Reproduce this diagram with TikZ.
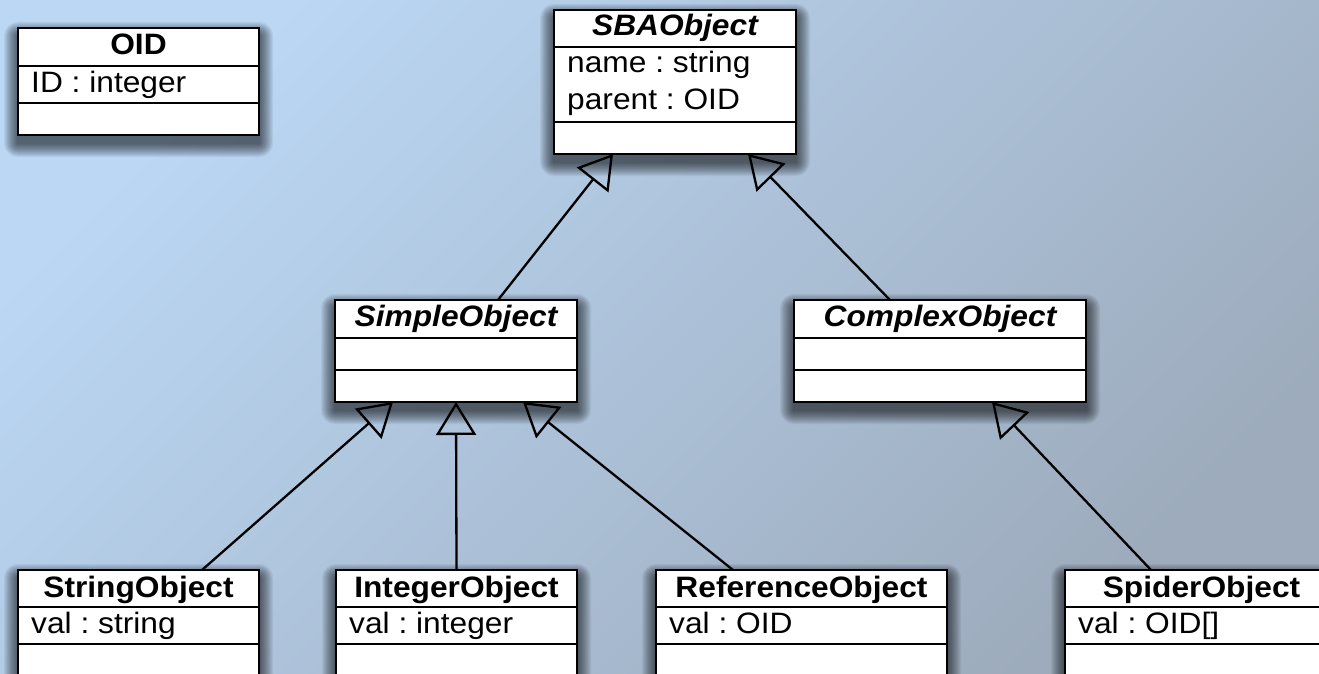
\documentclass[tikz,border=0pt]{standalone}
\usepackage{fontspec}
\setmainfont{Liberation Sans}[FakeStretch=1.075]
\usetikzlibrary{arrows.meta,calc}
\frenchspacing

\definecolor{bgLight}{HTML}{BBD7F4}
\definecolor{bgDark}{HTML}{9DABBC}

\tikzset{
  classbox/.style={rectangle, draw=black, fill=white, line width=2.8pt, inner sep=0pt, outer sep=0pt},
  divider/.style={draw=black, line width=2.3pt},
  classname/.style={anchor=base, inner sep=0pt, font=\fontsize{29.5}{35}\selectfont\bfseries},
  abstractname/.style={anchor=base, inner sep=0pt, font=\fontsize{29.5}{35}\selectfont\bfseries\itshape},
  attr/.style={anchor=base west, inner sep=0pt, font=\fontsize{29.5}{35}\selectfont},
  inherit/.style={draw=black, line width=2.3pt, -{Triangle[open, length=33pt, width=40pt]}},
}

% soft drop shadow followed by the class rectangle: name, left, top, width, height
\newcommand\umlbox[5]{%
  \foreach \r in {1,...,14}{%
    \fill[black, opacity=0.05, rounded corners=\r pt]
      (#2-\r, #3+8-\r) rectangle (#2+#4+\r, #3+#5+8+\r);}
  \node[classbox, anchor=north west, minimum width=#4pt, minimum height=#5pt] (#1) at (#2,#3) {};}

% horizontal compartment line at a given depth below the top edge
\newcommand\compartment[2]{%
  \draw[divider] ($(#1.north west)+(0,#2)$) -- ($(#1.north east)+(0,#2)$);}

\begin{document}
\begin{tikzpicture}[x=1pt, y=-1pt]
  \useasboundingbox (0,0) rectangle (1319,674);
  \clip (0,0) rectangle (1319,674);
  \shade[top color=bgLight, bottom color=bgDark, shading angle=45] (0,0) rectangle (1319,674);

  % classes
  \umlbox{oid}{18}{28}{241}{107}
  \umlbox{sba}{554}{10}{242}{144}
  \umlbox{simple}{335}{300}{242}{102}
  \umlbox{complex}{794}{300}{292}{102}
  \umlbox{string}{18}{570}{241}{112}
  \umlbox{integer}{336}{570}{241}{112}
  \umlbox{reference}{656}{570}{291}{112}
  \umlbox{spider}{1065}{570}{273}{112}

  \compartment{oid}{38}\compartment{oid}{75}
  \compartment{sba}{37}\compartment{sba}{112}
  \compartment{simple}{38}\compartment{simple}{70}
  \compartment{complex}{38}\compartment{complex}{70}
  \compartment{string}{37}\compartment{string}{74}
  \compartment{integer}{37}\compartment{integer}{74}
  \compartment{reference}{37}\compartment{reference}{74}
  \compartment{spider}{37}\compartment{spider}{74}

  % names and attributes
  \node[classname] (oid-name) at ($(oid.north)+(0,27)$) {OID};
  \node[attr] (oid-id) at ($(oid.north west)+(13,65)$) {ID : integer};

  \node[abstractname] (sba-name) at ($(sba.north)+(0,26)$) {SBAObject};
  \node[attr] (sba-name-attr) at ($(sba.north west)+(13,63)$) {name : string};
  \node[attr] (sba-parent) at ($(sba.north west)+(13,100)$) {parent : OID};

  \node[abstractname] (simple-name) at ($(simple.north)+(0,26)$) {SimpleObject};
  \node[abstractname] (complex-name) at ($(complex.north)+(0,26)$) {ComplexObject};

  \node[classname] (string-name) at ($(string.north)+(0,27)$) {StringObject};
  \node[attr] (string-val) at ($(string.north west)+(13,63)$) {val : string};
  \node[classname] (integer-name) at ($(integer.north)+(0,27)$) {IntegerObject};
  \node[attr] (integer-val) at ($(integer.north west)+(13,63)$) {val : integer};
  \node[classname] (reference-name) at ($(reference.north)+(0,27)$) {ReferenceObject};
  \node[attr] (reference-val) at ($(reference.north west)+(13,63)$) {val : OID};
  \node[classname] (spider-name) at ($(spider.north west)+(136.5,27)$) {SpiderObject};
  \node[attr] (spider-val) at ($(spider.north west)+(13,63)$) {val : OID[]};

  % attachment points of the generalisation arrows
  \coordinate (sba-l) at ($(sba.south west)+(59,0)$);
  \coordinate (sba-r) at ($(sba.south west)+(194,0)$);
  \coordinate (simple-t) at ($(simple.north west)+(163,0)$);
  \coordinate (complex-t) at ($(complex.north west)+(96,0)$);
  \coordinate (simple-l) at ($(simple.south west)+(58,0)$);
  \coordinate (simple-r) at ($(simple.south west)+(188,0)$);
  \coordinate (complex-b) at ($(complex.south west)+(198,0)$);
  \coordinate (string-t) at ($(string.north west)+(184,0)$);
  \coordinate (reference-t) at ($(reference.north west)+(77,0)$);
  \coordinate (spider-t) at ($(spider.north west)+(86,0)$);

  \draw[inherit] (simple-t) -- (sba-l);
  \draw[inherit] (complex-t) -- (sba-r);
  \draw[inherit] (string-t) -- (simple-l);
  \draw[inherit] (integer.north) -- (simple.south);
  \draw[inherit] (reference-t) -- (simple-r);
  \draw[inherit] (spider-t) -- (complex-b);
\end{tikzpicture}
\end{document}
